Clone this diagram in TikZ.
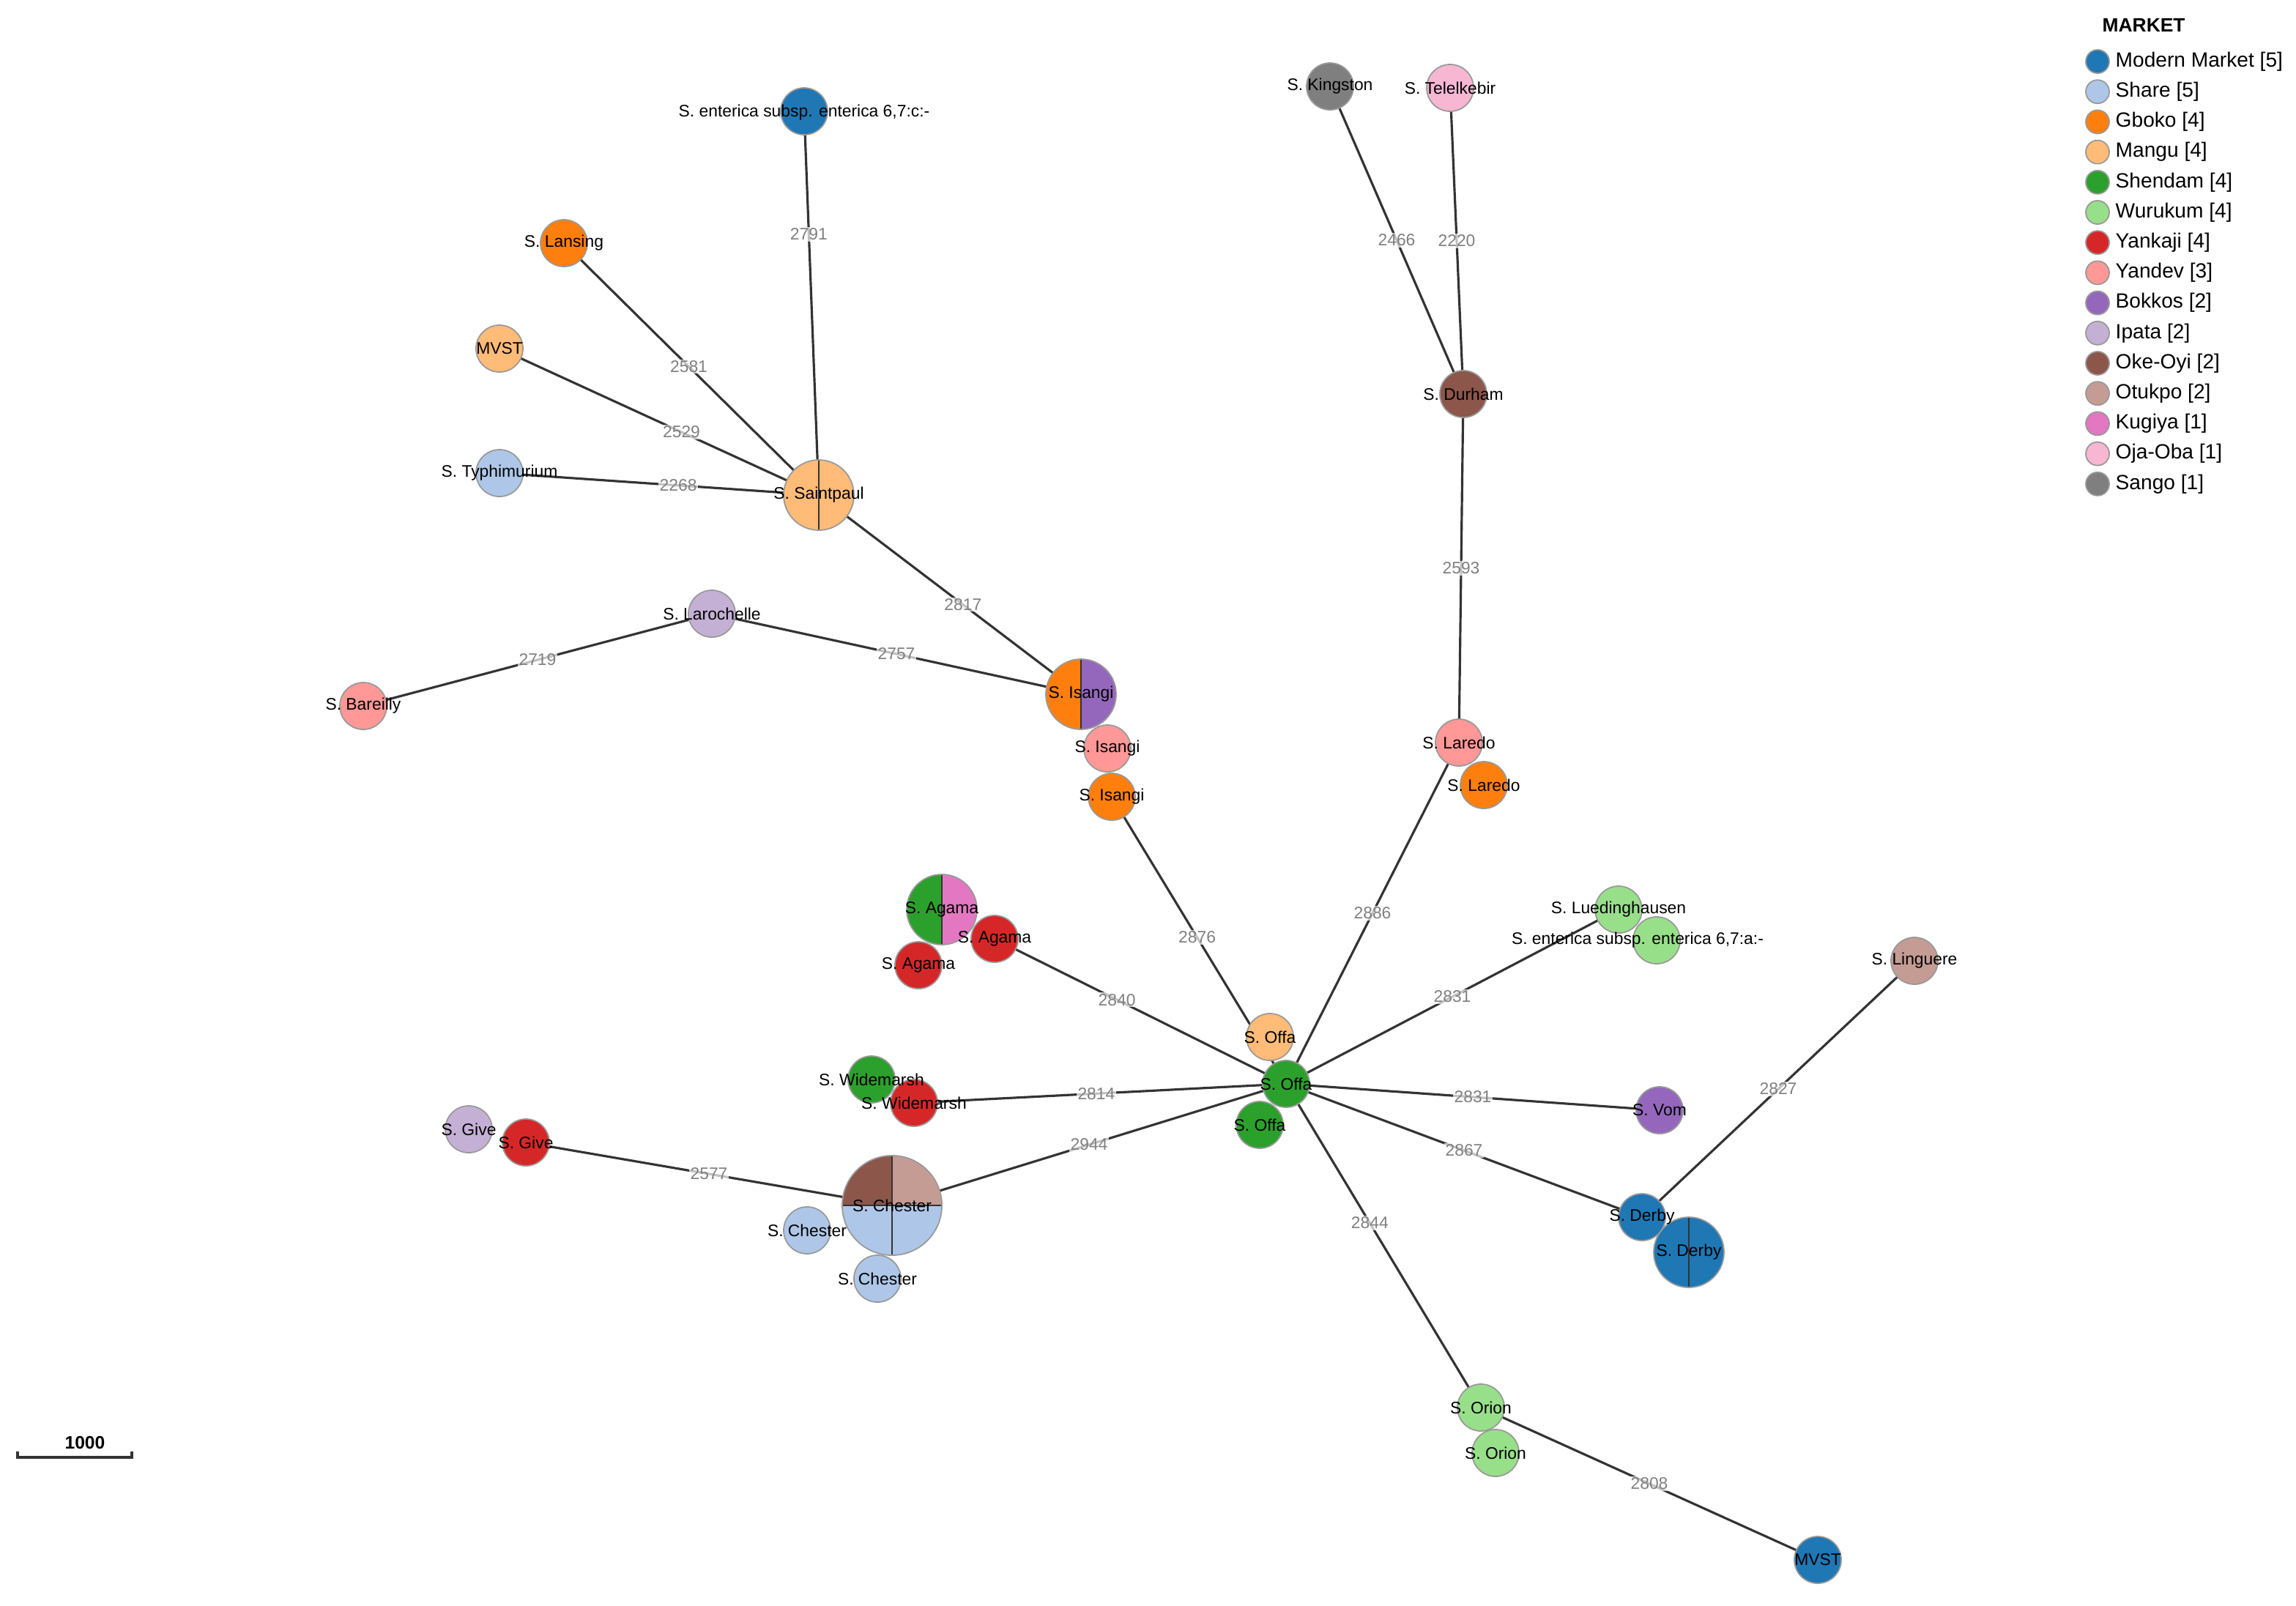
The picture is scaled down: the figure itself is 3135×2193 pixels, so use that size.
\documentclass[tikz,border=0pt]{standalone}
\usepackage{fontspec}
\setmainfont{Liberation Sans}
\definecolor{cMM}{HTML}{1F77B4}
\definecolor{cSh}{HTML}{AEC7E8}
\definecolor{cGb}{HTML}{FF7F0E}
\definecolor{cMa}{HTML}{FFBB78}
\definecolor{cSd}{HTML}{2CA02C}
\definecolor{cWu}{HTML}{98DF8A}
\definecolor{cYk}{HTML}{D62728}
\definecolor{cYd}{HTML}{FF9896}
\definecolor{cBo}{HTML}{9467BD}
\definecolor{cIp}{HTML}{C5B0D5}
\definecolor{cOk}{HTML}{8C564B}
\definecolor{cOt}{HTML}{C49C94}
\definecolor{cKu}{HTML}{E377C2}
\definecolor{cOj}{HTML}{F7B6D2}
\definecolor{cSa}{HTML}{7F7F7F}
\definecolor{edgec}{HTML}{333333}
\pgfdeclarelayer{bg}
\pgfdeclarelayer{fg}
\pgfsetlayers{bg,main,fg}
\tikzset{
 circ/.style={circle,draw=gray!80,line width=0.5pt,minimum size=0.64cm,inner sep=0pt},
 bigc/.style={circle,draw=gray!80,line width=0.5pt,minimum size=#1,inner sep=0pt},
 lbl/.style={font=\fontsize{6.5}{7}\selectfont,text=black,inner sep=0pt},
 elbl/.style={font=\fontsize{6.5}{7}\selectfont,text=gray,fill=white,fill opacity=0.7,text opacity=1,inner sep=0.5pt},
 edge/.style={draw=edgec,line width=0.9pt},
 leg/.style={font=\fontsize{8}{9}\selectfont,anchor=west,inner sep=0pt},
}
\newcommand{\nd}[5]{\node[circ,fill=#4] (#1) at (#2,-#3) {};
 \begin{pgfonlayer}{fg}\node[lbl] at (#2,-#3) {#5};\end{pgfonlayer}}
\newcommand{\halfpie}[7]{% name x y r colL colR label
 \fill[#5] (#2,-#3) -- ++(0,#4) arc(90:270:#4) -- cycle;
 \fill[#6] (#2,-#3) -- ++(0,#4) arc(90:-90:#4) -- cycle;
 \draw[edgec,line width=0.5pt] (#2,-#3) ++(0,#4) -- ++(0,-2*#4);
 \node[bigc=2*#4*0.01cm] (#1) at (#2,-#3) {};
 \begin{pgfonlayer}{fg}\node[lbl] at (#2,-#3) {#7};\end{pgfonlayer}}
\begin{document}
\begin{tikzpicture}[x=0.01cm,y=0.01cm]
\useasboundingbox (0,0) rectangle (3135,-2193);
% nodes
\nd{ec}{1098}{152}{cMM}{}
\begin{pgfonlayer}{fg}\node[lbl] at (1098,-154) {S. enterica subsp. enterica 6,7:c:-};\end{pgfonlayer}
\nd{lan}{770}{332}{cGb}{S. Lansing}
\nd{mvst}{682}{476}{cMa}{MVST}
\nd{typ}{682}{646}{cSh}{S. Typhimurium}
\halfpie{sp}{1118}{676}{48}{cMa}{cMa}{S. Saintpaul}
\nd{lar}{972}{838}{cIp}{S. Larochelle}
\nd{bar}{496}{964}{cYd}{S. Bareilly}
\halfpie{isp}{1476}{948}{48}{cGb}{cBo}{S. Isangi}
\nd{isy}{1512}{1022}{cYd}{S. Isangi}
\nd{isg}{1518}{1088}{cGb}{S. Isangi}
\nd{kin}{1816}{118}{cSa}{S. Kingston}
\nd{tel}{1980}{120}{cOj}{S. Telelkebir}
\nd{dur}{1998}{538}{cOk}{S. Durham}
\nd{lay}{1992}{1014}{cYd}{S. Laredo}
\nd{lag}{2026}{1072}{cGb}{S. Laredo}
\nd{lue}{2210}{1242}{cWu}{S. Luedinghausen}
\nd{ea}{2262}{1284}{cWu}{}
\begin{pgfonlayer}{fg}\node[lbl] at (2236,-1284) {S. enterica subsp. enterica 6,7:a:-};\end{pgfonlayer}
\nd{lin}{2614}{1312}{cOt}{S. Linguere}
\halfpie{agp}{1286}{1242}{48}{cSd}{cKu}{S. Agama}
\nd{ag1}{1358}{1282}{cYk}{S. Agama}
\nd{ag2}{1254}{1318}{cYk}{S. Agama}
\nd{ofm}{1734}{1416}{cMa}{S. Offa}
\nd{of}{1756}{1480}{cSd}{S. Offa}
\nd{ofs}{1720}{1536}{cSd}{S. Offa}
\nd{wig}{1190}{1474}{cSd}{S. Widemarsh}
\nd{wir}{1248}{1506}{cYk}{S. Widemarsh}
\nd{gii}{640}{1542}{cIp}{S. Give}
\nd{giy}{718}{1560}{cYk}{S. Give}
% Chester pie
\fill[cSh] (1218,-1646) -- ++(68,0) arc(0:-180:68) -- cycle;
\fill[cOt] (1218,-1646) -- ++(68,0) arc(0:90:68) -- cycle;
\fill[cOk] (1218,-1646) -- ++(0,68) arc(90:180:68) -- cycle;
\draw[edgec,line width=0.5pt] (1150,-1646) -- (1286,-1646) (1218,-1578) -- (1218,-1714);
\node[bigc=1.36cm] (ch) at (1218,-1646) {};
\begin{pgfonlayer}{fg}\node[lbl] at (1218,-1646) {S. Chester};\end{pgfonlayer}
\nd{ch1}{1102}{1680}{cSh}{S. Chester}
\nd{ch2}{1198}{1746}{cSh}{S. Chester}
\nd{vom}{2266}{1516}{cBo}{S. Vom}
\nd{der}{2242}{1662}{cMM}{S. Derby}
\halfpie{derb}{2306}{1710}{48}{cMM}{cMM}{S. Derby}
\nd{or1}{2022}{1922}{cWu}{S. Orion}
\nd{or2}{2042}{1984}{cWu}{S. Orion}
\nd{mv2}{2482}{2130}{cMM}{MVST}
% edges
\begin{pgfonlayer}{bg}
\draw[edge] (ec.center) -- node[elbl,pos=0.32]{2791} (sp.center);
\draw[edge] (lan.center) -- node[elbl,pos=0.49]{2581} (sp.center);
\draw[edge] (mvst.center) -- node[elbl,pos=0.57]{2529} (sp.center);
\draw[edge] (typ.center) -- node[elbl,pos=0.56]{2268} (sp.center);
\draw[edge] (sp.center) -- node[elbl,pos=0.55]{2817} (isp.center);
\draw[edge] (lar.center) -- node[elbl,pos=0.5]{2757} (isp.center);
\draw[edge] (bar.center) -- node[elbl,pos=0.5]{2719} (lar.center);
\draw[edge] (isg.center) -- node[elbl,pos=0.49]{2876} (of.center);
\draw[edge] (kin.center) -- node[elbl,pos=0.5]{2466} (dur.center);
\draw[edge] (tel.center) -- node[elbl,pos=0.5]{2220} (dur.center);
\draw[edge] (dur.center) -- node[elbl,pos=0.5]{2593} (lay.center);
\draw[edge] (lay.center) -- node[elbl,pos=0.5]{2886} (of.center);
\draw[edge] (lue.center) -- node[elbl,pos=0.5]{2831} (of.center);
\draw[edge] (lin.center) -- node[elbl,pos=0.5]{2827} (der.center);
\draw[edge] (ag1.center) -- node[elbl,pos=0.42]{2840} (of.center);
\draw[edge] (wir.center) -- node[elbl,pos=0.49]{2814} (of.center);
\draw[edge] (ch.center) -- node[elbl,pos=0.5]{2944} (of.center);
\draw[edge] (giy.center) -- node[elbl,pos=0.5]{2577} (ch.center);
\draw[edge] (of.center) -- node[elbl,pos=0.5]{2831} (vom.center);
\draw[edge] (of.center) -- node[elbl,pos=0.5]{2867} (der.center);
\draw[edge] (of.center) -- node[elbl,pos=0.43]{2844} (or1.center);
\draw[edge] (or1.center) -- node[elbl,pos=0.5]{2808} (mv2.center);
\end{pgfonlayer}
% scale bar
\coordinate (sb1) at (24,-1990); \coordinate (sb2) at (180,-1990);
\draw[line width=0.9pt,edgec] (24,-1982) -- (sb1) -- (sb2) -- (180,-1982);
\node[font=\fontsize{7}{8}\selectfont\bfseries] (sbl) at (116,-1970) {1000};
% legend
\node[font=\fontsize{7.5}{8}\selectfont\bfseries,anchor=west,inner sep=0pt] (lt) at (2870,-34) {MARKET};
\foreach \c/\t [count=\i from 0] in {cMM/Modern Market [5],cSh/Share [5],cGb/Gboko [4],cMa/Mangu [4],cSd/Shendam [4],cWu/Wurukum [4],cYk/Yankaji [4],cYd/Yandev [3],cBo/Bokkos [2],cIp/Ipata [2],cOk/Oke-Oyi [2],cOt/Otukpo [2],cKu/Kugiya [1],cOj/Oja-Oba [1],cSa/Sango [1]}{
 \node[circle,draw=gray!80,line width=0.5pt,fill=\c,minimum size=0.32cm,inner sep=0pt] (lc\i) at (2864,-84-41.2*\i) {};
 \node[leg] (lx\i) at (2888,-84-41.2*\i) {\t};
}
\end{tikzpicture}
\end{document}
